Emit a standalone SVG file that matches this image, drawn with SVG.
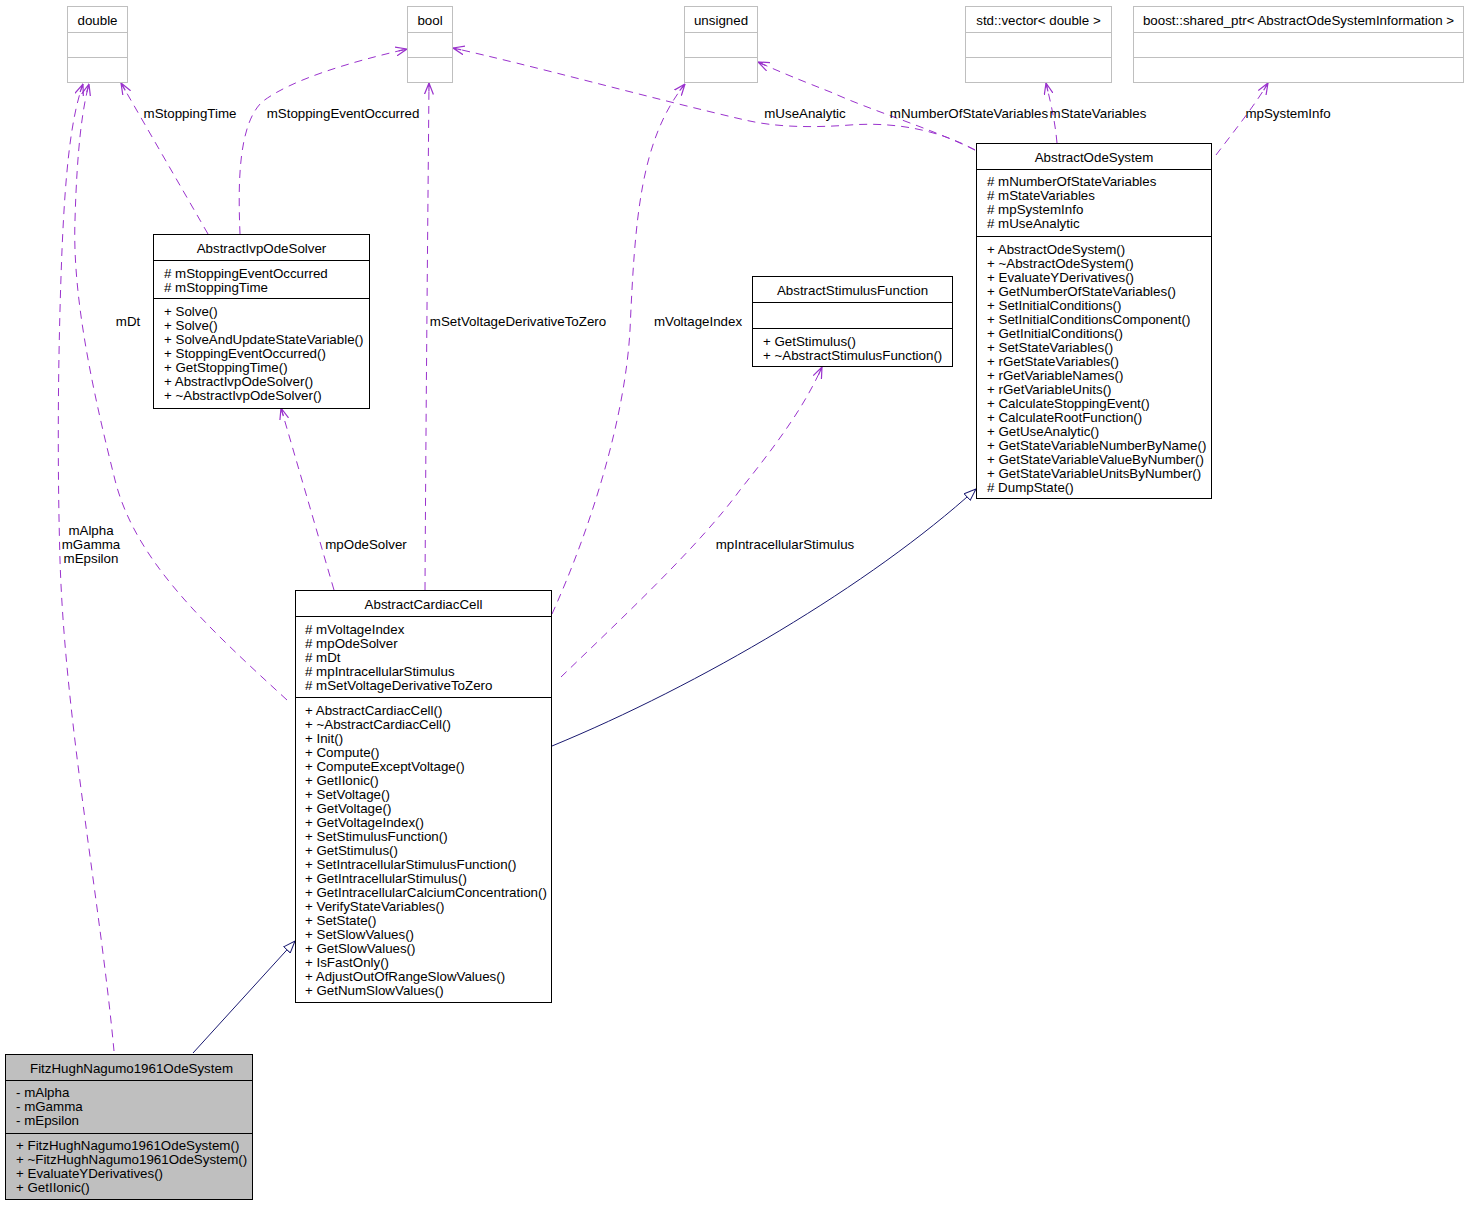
<svg xmlns="http://www.w3.org/2000/svg" width="1467" height="1205" viewBox="0 0 1467 1205">
<style>
text{font-family:"Liberation Sans",Arial,Helvetica,sans-serif;font-size:13.33px;fill:#000}
.t{text-anchor:middle}
.b{fill:#fff;stroke:#000;stroke-width:1}
.g{fill:#fff;stroke:#bfbfbf;stroke-width:1}
.gb{fill:#bfbfbf;stroke:#000;stroke-width:1}
.ln{stroke:#000;stroke-width:1}
.lg{stroke:#bfbfbf;stroke-width:1}
.u{fill:none;stroke:#9a32cd;stroke-width:1;stroke-dasharray:8,6;marker-end:url(#mu)}
.i{fill:none;stroke:#191970;stroke-width:1;marker-end:url(#mi)}
</style>
<defs>
<marker id="mu" viewBox="0 0 12 10" refX="11.5" refY="5" markerWidth="12" markerHeight="10" orient="auto" markerUnits="userSpaceOnUse"><path d="M0,0.5 L11.5,5 L0,9.5 M3,5 L11.5,5" fill="none" stroke="#9a32cd" stroke-width="1.2"/></marker>
<marker id="mi" viewBox="0 0 13 10" refX="12.5" refY="5" markerWidth="13" markerHeight="10" orient="auto" markerUnits="userSpaceOnUse"><path d="M0.5,0.5 L12.5,5 L0.5,9.5 Z" fill="#fff" stroke="#191970" stroke-width="1"/></marker>
</defs>
<rect width="1467" height="1205" fill="#fff"/>

<g id="connectors">
<path class="i" d="M193,1053 L295,941"/>
<path class="i" d="M552,746 C700,685 870,585 976,489"/>
<path class="u" d="M208,234 L121,83"/>
<path class="u" d="M240,234 C238,185 238,125 262,102 C290,80 350,62 407,49"/>
<path class="u" d="M334,590 L281,408"/>
<path class="u" d="M425,590 C426,400 428,200 429,83"/>
<path class="u" d="M552,614 C590,530 625,420 630,330 C635,220 640,140 685,84"/>
<path class="u" d="M561,677 C620,620 700,545 740,490 C780,440 805,405 822,367"/>
<path class="u" d="M287,700 C205,625 135,560 115,480 C95,400 72,300 75,220 C77,150 82,110 89,84"/>
<path class="u" d="M114,1051 C100,900 65,720 60,560 C56,420 60,300 62,250 C65,180 70,120 83,84"/>
<path class="u" d="M975,150 C935,128 890,122 850,125 C810,128 775,127 745,120 C650,98 530,65 453,48"/>
<path class="u" d="M975,150 C930,128 870,110 833,93 C800,80 780,72 758,62"/>
<path class="u" d="M1057,143 C1055,120 1050,100 1046,83"/>
<path class="u" d="M1216,155 C1235,130 1255,105 1268,83"/>
<text x="190" y="118" class="t">mStoppingTime</text>
<text x="343" y="118" class="t">mStoppingEventOccurred</text>
<text x="366" y="549" class="t">mpOdeSolver</text>
<text x="518" y="326" class="t">mSetVoltageDerivativeToZero</text>
<text x="698" y="326" class="t">mVoltageIndex</text>
<text x="785" y="549" class="t">mpIntracellularStimulus</text>
<text x="128" y="326" class="t">mDt</text>
<text x="91" y="535" class="t">mAlpha</text>
<text x="91" y="549" class="t">mGamma</text>
<text x="91" y="563" class="t">mEpsilon</text>
<text x="805" y="118" class="t">mUseAnalytic</text>
<text x="969" y="118" class="t">mNumberOfStateVariables</text>
<text x="1098" y="118" class="t">mStateVariables</text>
<text x="1288" y="118" class="t">mpSystemInfo</text>
</g>

<g id="double">
<rect class="g" x="67.5" y="6.5" width="60" height="76"/>
<line class="lg" x1="67.5" y1="32.5" x2="127.5" y2="32.5"/>
<line class="lg" x1="67.5" y1="57.5" x2="127.5" y2="57.5"/>
<text x="97.5" y="25" class="t">double</text>
</g>
<g id="bool">
<rect class="g" x="407.5" y="6.5" width="45" height="76"/>
<line class="lg" x1="407.5" y1="32.5" x2="452.5" y2="32.5"/>
<line class="lg" x1="407.5" y1="57.5" x2="452.5" y2="57.5"/>
<text x="430" y="25" class="t">bool</text>
</g>
<g id="unsigned">
<rect class="g" x="684.5" y="6.5" width="73" height="76"/>
<line class="lg" x1="684.5" y1="32.5" x2="757.5" y2="32.5"/>
<line class="lg" x1="684.5" y1="57.5" x2="757.5" y2="57.5"/>
<text x="721" y="25" class="t">unsigned</text>
</g>
<g id="stdvector">
<rect class="g" x="965.5" y="6.5" width="146" height="76"/>
<line class="lg" x1="965.5" y1="32.5" x2="1111.5" y2="32.5"/>
<line class="lg" x1="965.5" y1="57.5" x2="1111.5" y2="57.5"/>
<text x="1038.5" y="25" class="t">std::vector&lt; double &gt;</text>
</g>
<g id="sharedptr">
<rect class="g" x="1133.5" y="6.5" width="330" height="76"/>
<line class="lg" x1="1133.5" y1="32.5" x2="1463.5" y2="32.5"/>
<line class="lg" x1="1133.5" y1="57.5" x2="1463.5" y2="57.5"/>
<text x="1298.5" y="25" class="t">boost::shared_ptr&lt; AbstractOdeSystemInformation &gt;</text>
</g>

<g id="AbstractIvpOdeSolver">
<rect class="b" x="153.5" y="234.5" width="216" height="174"/>
<line class="ln" x1="153.5" y1="260.5" x2="369.5" y2="260.5"/>
<line class="ln" x1="153.5" y1="298.5" x2="369.5" y2="298.5"/>
<text x="261.5" y="253" class="t">AbstractIvpOdeSolver</text>
<text x="164" y="278"># mStoppingEventOccurred</text>
<text x="164" y="292"># mStoppingTime</text>
<text x="164" y="316">+ Solve()</text>
<text x="164" y="330">+ Solve()</text>
<text x="164" y="344">+ SolveAndUpdateStateVariable()</text>
<text x="164" y="358">+ StoppingEventOccurred()</text>
<text x="164" y="372">+ GetStoppingTime()</text>
<text x="164" y="386">+ AbstractIvpOdeSolver()</text>
<text x="164" y="400">+ ~AbstractIvpOdeSolver()</text>
</g>

<g id="AbstractStimulusFunction">
<rect class="b" x="752.5" y="276.5" width="200" height="90"/>
<line class="ln" x1="752.5" y1="302.5" x2="952.5" y2="302.5"/>
<line class="ln" x1="752.5" y1="328.5" x2="952.5" y2="328.5"/>
<text x="852.5" y="295" class="t">AbstractStimulusFunction</text>
<text x="763" y="346">+ GetStimulus()</text>
<text x="763" y="360">+ ~AbstractStimulusFunction()</text>
</g>

<g id="AbstractOdeSystem">
<rect class="b" x="976.5" y="143.5" width="235" height="355"/>
<line class="ln" x1="976.5" y1="169.5" x2="1211.5" y2="169.5"/>
<line class="ln" x1="976.5" y1="236.5" x2="1211.5" y2="236.5"/>
<text x="1094" y="162" class="t">AbstractOdeSystem</text>
<text x="987" y="186"># mNumberOfStateVariables</text>
<text x="987" y="200"># mStateVariables</text>
<text x="987" y="214"># mpSystemInfo</text>
<text x="987" y="228"># mUseAnalytic</text>
<text x="987" y="254">+ AbstractOdeSystem()</text>
<text x="987" y="268">+ ~AbstractOdeSystem()</text>
<text x="987" y="282">+ EvaluateYDerivatives()</text>
<text x="987" y="296">+ GetNumberOfStateVariables()</text>
<text x="987" y="310">+ SetInitialConditions()</text>
<text x="987" y="324">+ SetInitialConditionsComponent()</text>
<text x="987" y="338">+ GetInitialConditions()</text>
<text x="987" y="352">+ SetStateVariables()</text>
<text x="987" y="366">+ rGetStateVariables()</text>
<text x="987" y="380">+ rGetVariableNames()</text>
<text x="987" y="394">+ rGetVariableUnits()</text>
<text x="987" y="408">+ CalculateStoppingEvent()</text>
<text x="987" y="422">+ CalculateRootFunction()</text>
<text x="987" y="436">+ GetUseAnalytic()</text>
<text x="987" y="450">+ GetStateVariableNumberByName()</text>
<text x="987" y="464">+ GetStateVariableValueByNumber()</text>
<text x="987" y="478">+ GetStateVariableUnitsByNumber()</text>
<text x="987" y="492"># DumpState()</text>
</g>

<g id="AbstractCardiacCell">
<rect class="b" x="295.5" y="590.5" width="256" height="412"/>
<line class="ln" x1="295.5" y1="616.5" x2="551.5" y2="616.5"/>
<line class="ln" x1="295.5" y1="697.5" x2="551.5" y2="697.5"/>
<text x="423.5" y="609" class="t">AbstractCardiacCell</text>
<text x="305" y="634"># mVoltageIndex</text>
<text x="305" y="648"># mpOdeSolver</text>
<text x="305" y="662"># mDt</text>
<text x="305" y="676"># mpIntracellularStimulus</text>
<text x="305" y="690"># mSetVoltageDerivativeToZero</text>
<text x="305" y="715">+ AbstractCardiacCell()</text>
<text x="305" y="729">+ ~AbstractCardiacCell()</text>
<text x="305" y="743">+ Init()</text>
<text x="305" y="757">+ Compute()</text>
<text x="305" y="771">+ ComputeExceptVoltage()</text>
<text x="305" y="785">+ GetIIonic()</text>
<text x="305" y="799">+ SetVoltage()</text>
<text x="305" y="813">+ GetVoltage()</text>
<text x="305" y="827">+ GetVoltageIndex()</text>
<text x="305" y="841">+ SetStimulusFunction()</text>
<text x="305" y="855">+ GetStimulus()</text>
<text x="305" y="869">+ SetIntracellularStimulusFunction()</text>
<text x="305" y="883">+ GetIntracellularStimulus()</text>
<text x="305" y="897">+ GetIntracellularCalciumConcentration()</text>
<text x="305" y="911">+ VerifyStateVariables()</text>
<text x="305" y="925">+ SetState()</text>
<text x="305" y="939">+ SetSlowValues()</text>
<text x="305" y="953">+ GetSlowValues()</text>
<text x="305" y="967">+ IsFastOnly()</text>
<text x="305" y="981">+ AdjustOutOfRangeSlowValues()</text>
<text x="305" y="995">+ GetNumSlowValues()</text>
</g>

<g id="FitzHughNagumo1961OdeSystem">
<rect class="gb" x="5.5" y="1054.5" width="247" height="145"/>
<line class="ln" x1="5.5" y1="1080.5" x2="252.5" y2="1080.5"/>
<line class="ln" x1="5.5" y1="1133.5" x2="252.5" y2="1133.5"/>
<text x="131.5" y="1073" class="t">FitzHughNagumo1961OdeSystem</text>
<text x="16" y="1097">- mAlpha</text>
<text x="16" y="1111">- mGamma</text>
<text x="16" y="1125">- mEpsilon</text>
<text x="16" y="1150">+ FitzHughNagumo1961OdeSystem()</text>
<text x="16" y="1164">+ ~FitzHughNagumo1961OdeSystem()</text>
<text x="16" y="1178">+ EvaluateYDerivatives()</text>
<text x="16" y="1192">+ GetIIonic()</text>
</g>
</svg>
